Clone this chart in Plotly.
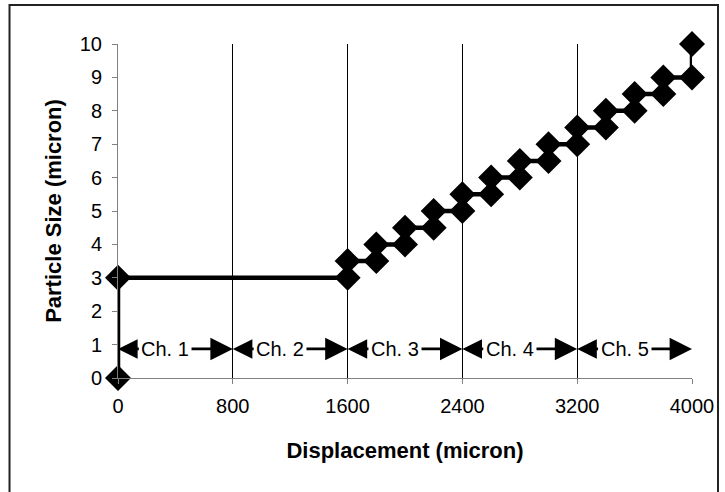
import plotly.graph_objects as go

# ---- data ----
displacement = [0, 0, 1600, 1600, 1800, 1800, 2000, 2000, 2200, 2200, 2400, 2400,
                2600, 2600, 2800, 2800, 3000, 3000, 3200, 3200, 3400, 3400,
                3600, 3600, 3800, 3800, 4000, 4000]
particle_size = [0, 3, 3, 3.5, 3.5, 4, 4, 4.5, 4.5, 5, 5, 5.5, 5.5, 6, 6, 6.5,
                 6.5, 7, 7, 7.5, 7.5, 8, 8, 8.5, 8.5, 9, 9, 10]
channel_edges = [0, 800, 1600, 2400, 3200, 4000]
channel_labels = ["Ch. 1", "Ch. 2", "Ch. 3", "Ch. 4", "Ch. 5"]
channel_marker_level = 0.87
x_ticks = [0, 800, 1600, 2400, 3200, 4000]
y_ticks = list(range(0, 11))

FONT = "Liberation Sans, Arial, sans-serif"

fig = go.Figure()
fig.add_trace(go.Scatter(
    x=displacement, y=particle_size, mode="lines+markers",
    line=dict(color="black", width=4.5),
    marker=dict(symbol="diamond", size=20, color="black"),
    cliponaxis=False, showlegend=False, hoverinfo="x+y",
))

annotations = []
label_shift = 70
centers = []
for i in range(len(channel_labels)):
    left, right = channel_edges[i], channel_edges[i + 1]
    centers.append((left + right) / 2 - label_shift)
# right-pointing arrows first (drawn underneath)
for i, lab in enumerate(channel_labels):
    annotations.append(dict(
        x=channel_edges[i + 1], y=channel_marker_level, xref="x", yref="y",
        ax=centers[i], ay=channel_marker_level, axref="x", ayref="y",
        text="", showarrow=True, arrowhead=2, arrowsize=1.6, arrowwidth=2.8,
        arrowcolor="black", standoff=0, startstandoff=0,
    ))
# left-pointing arrows with the label text on top
for i, lab in enumerate(channel_labels):
    annotations.append(dict(
        x=channel_edges[i], y=channel_marker_level, xref="x", yref="y",
        ax=centers[i], ay=channel_marker_level, axref="x", ayref="y",
        text=lab, showarrow=True, arrowhead=2, arrowsize=1.4, arrowwidth=2.8,
        arrowcolor="black", standoff=0, bgcolor="white", borderpad=2,
        font=dict(family=FONT, size=20, color="black"),
    ))

fig.update_layout(
    width=725, height=492,
    margin=dict(l=118, r=33, t=44, b=114),
    paper_bgcolor="white", plot_bgcolor="white",
    font=dict(family=FONT, size=20, color="black"),
    annotations=annotations,
    shapes=[dict(
        type="path", xref="paper", yref="paper",
        path="M -0.189,-0.36 L -0.189,1.1168 L 1.0453,1.1168 L 1.0453,-0.36",
        line=dict(color="#222222", width=2), layer="above",
    )],
    xaxis=dict(
        range=[0, 4000], tickvals=x_ticks, ticktext=[str(v) for v in x_ticks],
        showgrid=True, gridcolor="black", gridwidth=1,
        showline=True, linecolor="#808080", linewidth=1,
        ticks="outside", ticklen=5, tickcolor="#808080",
        ticklabelstandoff=5,
        zeroline=False,
        title=dict(text="<b>Displacement (micron)</b>",
                   font=dict(family=FONT, size=22, color="black"), standoff=26),
    ),
    yaxis=dict(
        range=[0, 10], tickvals=y_ticks,
        showgrid=False,
        showline=True, linecolor="#808080", linewidth=1,
        ticks="outside", ticklen=5, tickcolor="#808080",
        ticklabelstandoff=6,
        zeroline=False,
        title=dict(text="<b>Particle Size (micron)</b>",
                   font=dict(family=FONT, size=22, color="black"), standoff=12),
    ),
)

fig.write_html("out.html", config={"displayModeBar": False},
               post_script="document.body.style.margin='0';document.body.style.padding='0';")
